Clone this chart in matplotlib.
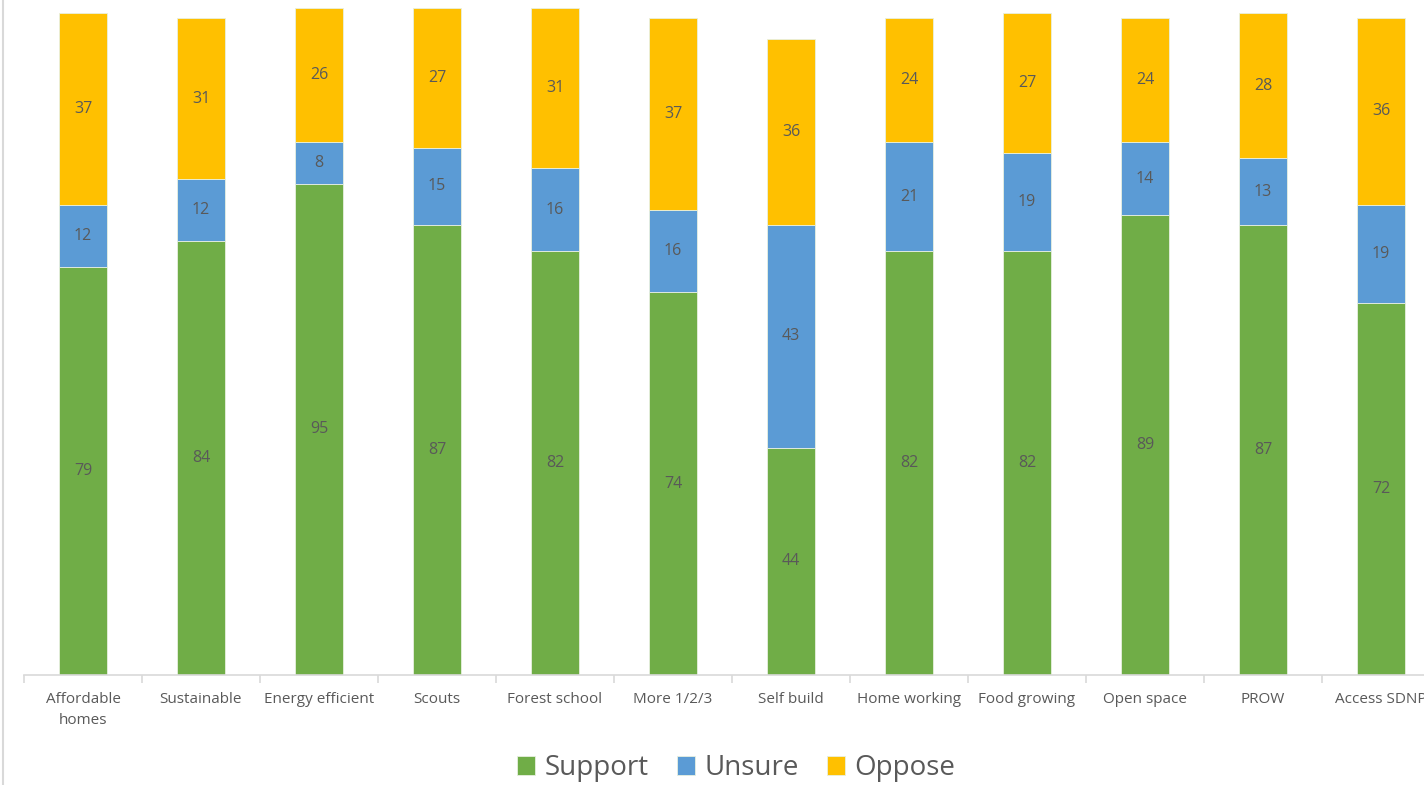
import matplotlib.pyplot as plt
from matplotlib.lines import Line2D
import numpy as np

plt.rcParams['font.family'] = ['Open Sans', 'DejaVu Sans']

categories = ['Affordable\nhomes', 'Sustainable', 'Energy efficient', 'Scouts',
              'Forest school', 'More 1/2/3', 'Self build', 'Home working',
              'Food growing', 'Open space', 'PROW', 'Access SDNP']
support = [79, 84, 95, 87, 82, 74, 44, 82, 82, 89, 87, 72]
unsure = [12, 12, 8, 15, 16, 16, 43, 21, 19, 14, 13, 19]
oppose = [37, 31, 26, 27, 31, 37, 36, 24, 27, 24, 28, 36]

series = [('Support', support, '#70AD47'),
          ('Unsure', unsure, '#5B9BD5'),
          ('Oppose', oppose, '#FFC000')]

fig = plt.figure(figsize=(14.24, 7.85), dpi=100)
ax = fig.add_axes([24 / 1424, 110 / 785, 1 - 24 / 1424, 675 / 785])

x = np.arange(len(categories))
bottom = np.zeros(len(categories))
for name, vals, color in series:
    vals = np.array(vals)
    ax.bar(x, vals, 0.41, bottom=bottom, color=color, label=name,
           edgecolor='#e8f0e0', linewidth=0.6)
    for xi, b, v in zip(x, bottom, vals):
        ax.text(xi, b + v / 2, str(v), ha='center', va='center',
                fontsize=11.5, color='#595959')
    bottom += vals

for s in ['top', 'right', 'left']:
    ax.spines[s].set_visible(False)
ax.spines['bottom'].set_color('#d9d9d9')
ax.spines['bottom'].set_linewidth(1.2)
ax.set_yticks([])
ax.set_xticks(x)
ax.set_xticklabels(categories, fontsize=11, color='#595959', linespacing=1.6)
ax.tick_params(axis='x', which='major', length=0, pad=12)
ax.set_xticks(np.arange(-0.5, len(categories), 1), minor=True)
ax.tick_params(axis='x', which='minor', length=6, color='#d9d9d9', width=1.2)

ax.set_xlim(-0.5, (1424 - 24) / 118 - 0.5)
ax.set_ylim(0, 675 / 5.17)

fig.add_artist(Line2D([2.5 / 1424, 2.5 / 1424], [0, 1], color='#d9d9d9',
                      linewidth=1.5, transform=fig.transFigure))

fig.legend(loc='center', bbox_to_anchor=(0.517, 1 - 768 / 785), ncol=3,
           frameon=False, fontsize=20, handlelength=0.65, handleheight=0.65,
           handletextpad=0.35, columnspacing=1.0, labelcolor='#595959')

fig.savefig('out.png', dpi=100)
